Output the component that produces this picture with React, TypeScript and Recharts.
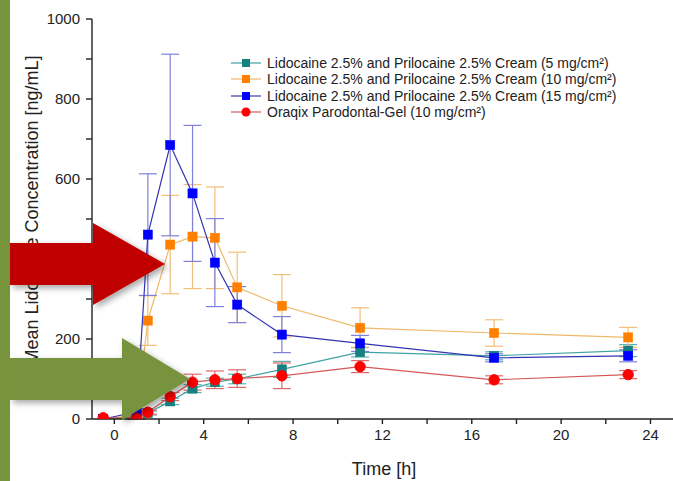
import React from 'react';
import { LineChart, Line, XAxis, YAxis, ErrorBar, Legend } from 'recharts';

const TIME = [-0.5, 1, 1.5, 2.5, 3.5, 4.5, 5.5, 7.5, 11, 17, 23];
const CREAM5 = [0, 5, 15, 44, 76, 92, 100, 124, 167, 158, 171];
const CREAM5_ERR = [0, 3, 5, 8, 10, 10, 12, 20, 12, 10, 15];
const CREAM10 = [0, 10, 246, 436, 456, 453, 329, 283, 228, 215, 204];
const CREAM10_ERR = [0, 5, 62, 123, 130, 127, 88, 78, 50, 33, 25];
const CREAM15 = [0, 18, 461, 685, 564, 391, 286, 211, 189, 153, 158];
const CREAM15_ERR = [0, 8, 152, 227, 170, 110, 45, 45, 20, 10, 15];
const ORAQIX = [3, 2, 17, 56, 92, 98, 101, 108, 131, 98, 111];
const ORAQIX_ERR = [0, 3, 5, 10, 20, 22, 22, 32, 15, 10, 10];

const SERIES_NAMES = [
  'Lidocaine 2.5% and Prilocaine 2.5% Cream (5 mg/cm²)',
  'Lidocaine 2.5% and Prilocaine 2.5% Cream (10 mg/cm²)',
  'Lidocaine 2.5% and Prilocaine 2.5% Cream (15 mg/cm²)',
  'Oraqix Parodontal-Gel (10 mg/cm²)',
];
const X_TICKS = [0, 2, 4, 6, 8, 10, 12, 14, 16, 18, 20, 22, 24];
const Y_TICKS = [0, 100, 200, 300, 400, 500, 600, 700, 800, 900, 1000];
const X_LABEL = 'Time [h]';
const Y_LABEL = 'Mean Lidocaine Concentration [ng/mL]';

const data = TIME.map((t, i) => ({
  t,
  c5: CREAM5[i], c5e: CREAM5_ERR[i],
  c10: CREAM10[i], c10e: CREAM10_ERR[i],
  c15: CREAM15[i], c15e: CREAM15_ERR[i],
  ora: ORAQIX[i], orae: ORAQIX_ERR[i],
}));

const STYLES = [
  { key: 'c5', err: 'c5e', line: '#3fa3a3', marker: '#168080', errColor: '#5fb0b0', shape: 'square' },
  { key: 'c10', err: 'c10e', line: '#f0b86a', marker: '#ff8000', errColor: '#f3bf78', shape: 'square' },
  { key: 'c15', err: 'c15e', line: '#3434b4', marker: '#0000ff', errColor: '#8080dc', shape: 'square' },
  { key: 'ora', err: 'orae', line: '#d45858', marker: '#ff0000', errColor: '#e06a6a', shape: 'circle' },
];

const FONT = '"Liberation Sans", Arial, Helvetica, sans-serif';

const makeDot = (fill: string, shape: string) => (props: any) => {
  const { cx, cy, index } = props;
  if (cx == null || cy == null) return <g key={index} />;
  if (shape === 'circle') {
    return <circle key={index} cx={cx} cy={cy} r={5.2} fill={fill} stroke={fill} />;
  }
  return <rect key={index} x={cx - 4.6} y={cy - 4.6} width={9.2} height={9.2} fill={fill} stroke={fill} strokeWidth={0.5} />;
};

const YLabel = () => (
  <text
    transform="translate(38,210) rotate(-90)"
    textAnchor="middle"
    fontSize={18}
    fill="#222"
    fontFamily={FONT}
  >
    {Y_LABEL}
  </text>
);

const XLabel = () => (
  <text x={384} y={475} textAnchor="middle" fontSize={18} fill="#222" fontFamily={FONT}>
    {X_LABEL}
  </text>
);

const LegendContent = () => (
  <div style={{ fontFamily: FONT, fontSize: 14, color: '#222' }}>
    {STYLES.map((s, i) => (
      <div key={s.key} style={{ display: 'flex', alignItems: 'center', height: 16.3, whiteSpace: 'nowrap' }}>
        <svg width={32} height={12} style={{ marginRight: 4 }}>
          <line x1={0} y1={6} x2={30} y2={6} stroke={s.line} strokeWidth={1.2} />
          {s.shape === 'circle' ? (
            <circle cx={15} cy={6} r={4.5} fill={s.marker} />
          ) : (
            <rect x={11} y={2} width={8} height={8} fill={s.marker} />
          )}
        </svg>
        <span>{SERIES_NAMES[i]}</span>
      </div>
    ))}
  </div>
);

export default function App() {
  return (
    <div
      style={{
        position: 'fixed',
        left: 0,
        top: 0,
        width: 673,
        height: 481,
        overflow: 'hidden',
        background: '#fff',
        fontFamily: FONT,
      }}
    >
      <LineChart
        width={700}
        height={481}
        data={data}
        margin={{ top: 19, right: 16, bottom: 0, left: 0 }}
      >
        <XAxis
          type="number"
          dataKey="t"
          domain={[-1, 25.5]}
          ticks={X_TICKS}
          allowDataOverflow
          height={62}
          tickSize={5}
          tickMargin={5}
          tickFormatter={(v: number) => (v % 4 === 0 ? String(v) : '')}
          tick={{ fontSize: 15, fill: '#222', fontFamily: FONT }}
          axisLine={{ stroke: '#222', strokeWidth: 1.4 }}
          tickLine={{ stroke: '#222', strokeWidth: 1.4 }}
          label={<XLabel />}
        />
        <YAxis
          type="number"
          domain={[0, 1000]}
          ticks={Y_TICKS}
          allowDataOverflow
          width={92}
          tickSize={6}
          tickMargin={6}
          tickFormatter={(v: number) => (v % 200 === 0 ? String(v) : '')}
          tick={{ fontSize: 15, fill: '#222', fontFamily: FONT }}
          axisLine={{ stroke: '#222', strokeWidth: 1.4 }}
          tickLine={{ stroke: '#222', strokeWidth: 1.4 }}
          label={<YLabel />}
        />
        <Legend
          layout="vertical"
          align="center"
          verticalAlign="middle"
          content={<LegendContent />}
          wrapperStyle={{ position: 'absolute', left: 231, top: 55, width: 440, height: 70 }}
        />
        {STYLES.map((s, i) => (
          <Line
            key={s.key}
            type="linear"
            dataKey={s.key}
            name={SERIES_NAMES[i]}
            stroke={s.line}
            strokeWidth={1.2}
            dot={makeDot(s.marker, s.shape)}
            activeDot={false}
            isAnimationActive={false}
          >
            <ErrorBar dataKey={s.err} direction="y" width={9} stroke={s.errColor} strokeWidth={1.2} />
          </Line>
        ))}
      </LineChart>
      <svg
        width={673}
        height={481}
        style={{ position: 'absolute', left: 0, top: 0, pointerEvents: 'none' }}
      >
        <defs>
          <filter id="sh" x="-20%" y="-20%" width="150%" height="150%">
            <feDropShadow dx="3" dy="3" stdDeviation="3" floodColor="#000" floodOpacity="0.35" />
          </filter>
        </defs>
        <polygon
          points="10,243 93,243 93,223 165,264 93,305 93,285 10,285"
          fill="#c00000"
          filter="url(#sh)"
        />
        <polygon
          points="10,358 122,358 122,338 190,379 122,420 122,400 10,400"
          fill="#77933c"
          filter="url(#sh)"
        />
        <rect x={0} y={0} width={10} height={481} fill="#77933c" />
      </svg>
    </div>
  );
}
